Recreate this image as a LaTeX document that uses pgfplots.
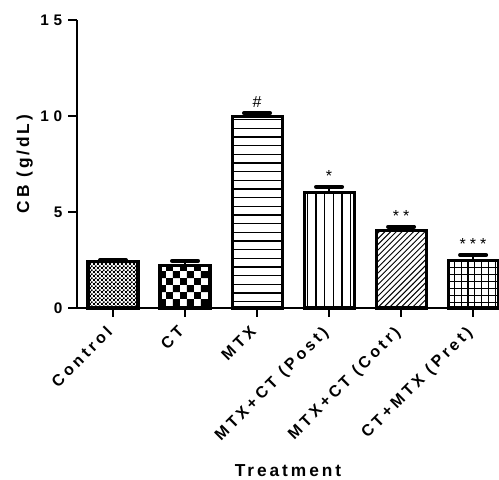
\documentclass[border=0pt]{standalone}
\usepackage{pgfplots}
\pgfplotsset{compat=1.18}
\usepackage{fontspec}
\setmainfont{Liberation Sans}
\newfontfamily\lsy[LetterSpace=32]{Liberation Sans Bold}
\newfontfamily\lsf[LetterSpace=22]{Liberation Sans Bold}
\newfontfamily\lsfb[LetterSpace=17]{Liberation Sans Bold}
\newfontfamily\lsfs[LetterSpace=25]{Liberation Sans}
\usetikzlibrary{patterns}

\pgfdeclarepatternformonly{chkfine}{\pgfpointorigin}{\pgfpoint{3.2pt}{3.2pt}}{\pgfpoint{3.2pt}{3.2pt}}{%
  \pgfpathrectangle{\pgfpointorigin}{\pgfpoint{1.6pt}{1.6pt}}%
  \pgfpathrectangle{\pgfpoint{1.6pt}{1.6pt}}{\pgfpoint{1.6pt}{1.6pt}}%
  \pgfusepath{fill}}
\pgfdeclarepatternformonly{chkbig}{\pgfpointorigin}{\pgfpoint{10.4pt}{10.4pt}}{\pgfpoint{10.4pt}{10.4pt}}{%
  \pgfpathrectangle{\pgfpointorigin}{\pgfpoint{5.2pt}{5.2pt}}%
  \pgfpathrectangle{\pgfpoint{5.2pt}{5.2pt}}{\pgfpoint{5.2pt}{5.2pt}}%
  \pgfusepath{fill}}
\pgfdeclarepatternformonly{hl}{\pgfpoint{-1pt}{-1pt}}{\pgfpoint{7.5pt}{7.5pt}}{\pgfpoint{6.5pt}{6.5pt}}{%
  \pgfsetlinewidth{0.9pt}%
  \pgfpathmoveto{\pgfpoint{-0.5pt}{3pt}}\pgfpathlineto{\pgfpoint{7pt}{3pt}}\pgfusepath{stroke}}
\pgfdeclarepatternformonly{vl}{\pgfpoint{-1pt}{-1pt}}{\pgfpoint{7.5pt}{7.5pt}}{\pgfpoint{6.5pt}{6.5pt}}{%
  \pgfsetlinewidth{0.9pt}%
  \pgfpathmoveto{\pgfpoint{3pt}{-0.5pt}}\pgfpathlineto{\pgfpoint{3pt}{7pt}}\pgfusepath{stroke}}
\pgfdeclarepatternformonly{nel}{\pgfpoint{-1pt}{-1pt}}{\pgfpoint{5.3pt}{5.3pt}}{\pgfpoint{4.3pt}{4.3pt}}{%
  \pgfsetlinewidth{0.7pt}%
  \pgfpathmoveto{\pgfpoint{0pt}{0pt}}\pgfpathlineto{\pgfpoint{4.4pt}{4.4pt}}\pgfusepath{stroke}}
\pgfdeclarepatternformonly{grd}{\pgfpoint{-1pt}{-1pt}}{\pgfpoint{6.2pt}{6.2pt}}{\pgfpoint{5.2pt}{5.2pt}}{%
  \pgfsetlinewidth{0.8pt}%
  \pgfpathmoveto{\pgfpoint{2.6pt}{-0.5pt}}\pgfpathlineto{\pgfpoint{2.6pt}{5.7pt}}%
  \pgfpathmoveto{\pgfpoint{-0.5pt}{2.6pt}}\pgfpathlineto{\pgfpoint{5.7pt}{2.6pt}}%
  \pgfusepath{stroke}}

\begin{document}
\begin{tikzpicture}
\path[use as bounding box] (-57.75pt,-128.25pt) rectangle (316.5pt,231pt);
\begin{axis}[
  scale only axis, width=316.5pt, height=216pt,
  xmin=-0.5, xmax=5.36, ymin=0, ymax=15,
  axis lines*=left,
  axis line style={line width=2pt},
  ytick={0,5,10,15},
  xtick={0,1,2,3,4,5},
  xticklabels={Control,CT,MTX,MTX+CT (Post),MTX+CT (Cotr),CT+MTX (Pret)},
  tick align=outside, major tick length=6.5pt,
  tick style={line width=1.8pt, black},
  /pgf/number format/assume math mode=true,
  yticklabel style={font=\lsy\fontsize{11.5}{13}\selectfont, xshift=-1pt},
  xticklabel style={font=\lsf\fontsize{12}{14}\selectfont, xshift=-6pt, yshift=-6pt, rotate=45, anchor=north east, inner sep=0pt},
  ylabel={CB (g/dL)},
  ylabel style={font=\lsfb\fontsize{13}{15}\selectfont, at={(axis description cs:-0.1137,0.5)}, anchor=base},
  xlabel={Treatment},
  xlabel style={font=\lsfb\fontsize{13}{15}\selectfont, at={(axis description cs:0.5,-0.584)}, anchor=base},
  ybar, bar width=37.5pt, bar shift=0pt,
  every axis plot/.append style={draw=black, line width=2.3pt},
  error bars/y dir=plus, error bars/y explicit,
  error bars/error bar style={line width=2pt, black},
  error bars/error mark options={rotate=90, line width=3pt, mark size=9.75pt, black, line cap=round},
  clip=false,
]
\addplot[pattern=chkfine] coordinates {(0,2.41) +- (0,0.09)};
\addplot[pattern=chkbig] coordinates {(1,2.20) +- (0,0.26)};
\addplot[pattern=hl] coordinates {(2,9.95) +- (0,0.2)};
\addplot[pattern=vl] coordinates {(3,6.03) +- (0,0.28)};
\addplot[pattern=nel] coordinates {(4,4.03) +- (0,0.2)};
\addplot[pattern=grd] coordinates {(5,2.45) +- (0,0.31)};
\addplot[draw=none, fill=none, nodes near coords, point meta=explicit symbolic,
  every node near coord/.style={anchor=south, font=\lsfs\fontsize{12}{13}\selectfont, inner sep=1pt, yshift=2pt}]
  coordinates {(2,10.15)[\#] (3,6.31)[*] (4,4.23)[**] (5,2.76)[***]};
\end{axis}
\end{tikzpicture}
\end{document}
